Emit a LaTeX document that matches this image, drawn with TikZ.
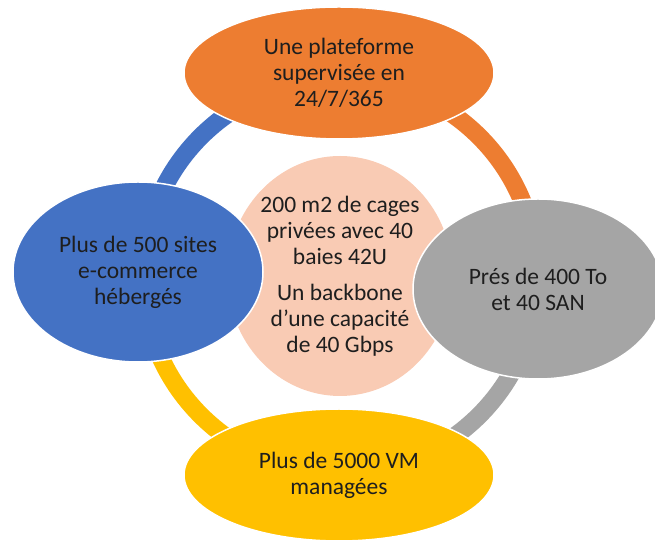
\documentclass[tikz,border=0pt]{standalone}
\usepackage{fontspec}
\setmainfont{Carlito}
\usetikzlibrary{shapes.geometric}
\definecolor{corange}{HTML}{ED7D31}
\definecolor{cgray}{HTML}{A5A5A5}
\definecolor{cyellow}{HTML}{FFC000}
\definecolor{cblue}{HTML}{4472C4}
\definecolor{cpeach}{HTML}{F9CBB4}
\definecolor{ctext}{HTML}{1E1E1E}
\tikzset{
  bubble/.style={ellipse, draw=white, line width=1.5pt, inner sep=0pt, align=center,
    text=ctext, font=\fontsize{23.5}{26}\selectfont},
  ringarc/.style={line width=18pt}
}
\begin{document}
\begin{tikzpicture}[x=1pt,y=1pt]
\useasboundingbox (0,0) rectangle (655,540);
\coordinate (c) at (340,264);
% ring
\draw[ringarc, corange] (c) ++(90:197pt) arc[start angle=90, end angle=0, radius=197pt];
\draw[ringarc, cgray] (c) ++(0:197pt) arc[start angle=0, end angle=-90, radius=197pt];
\draw[ringarc, cyellow] (c) ++(270:197pt) arc[start angle=270, end angle=180, radius=197pt];
\draw[ringarc, cblue] (c) ++(180:197pt) arc[start angle=180, end angle=90, radius=197pt];
% centre
\node[bubble, draw=none, fill=cpeach, minimum width=224pt, minimum height=240pt] (mid) at (c)
  {200 m2 de cages\\privées avec 40\\baies 42U\\[10pt]Un backbone\\d’une capacité\\de 40 Gbps};
% outer bubbles
\node[bubble, fill=corange, minimum width=310pt, minimum height=132pt] (top) at (339,467)
  {Une plateforme\\supervisée en\\24/7/365};
\node[bubble, fill=cblue, minimum width=250pt, minimum height=180pt] (left) at (138,268)
  {Plus de 500 sites\\e-commerce\\hébergés};
\node[bubble, fill=cgray, minimum width=250pt, minimum height=180pt] (right) at (538,251)
  {Prés de 400 To\\et 40 SAN};
\node[bubble, fill=cyellow, minimum width=310pt, minimum height=132pt] (bottom) at (339,65)
  {Plus de 5000 VM\\managées};
\end{tikzpicture}
\end{document}
